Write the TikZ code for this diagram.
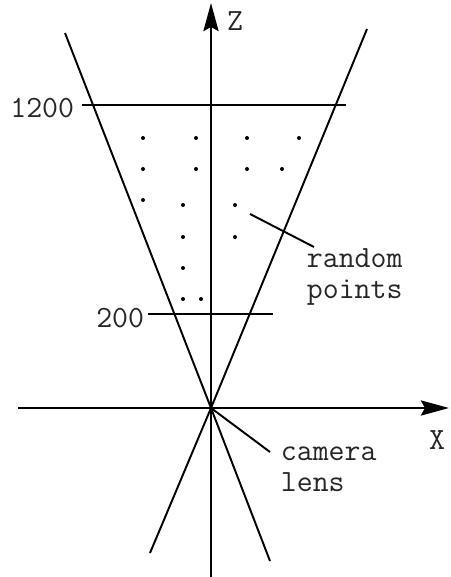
\documentclass[tikz,border=0pt]{standalone}
\usetikzlibrary{arrows.meta}
\begin{document}
\begin{tikzpicture}[x=0.02cm, y=-0.02cm, line width=1.1pt,
    lbl/.style={font=\ttfamily\fontsize{17.6}{17.6}\selectfont, inner sep=0pt, text=black!85},
    axis/.style={line width=1.7pt, -{Stealth[length=0.56cm, width=0.3cm, inset=0.08cm]}}]
    \useasboundingbox (0,0) rectangle (450,577);
    % Coordinates
    \coordinate (lens) at (211,408);
    \coordinate (zlow) at (211,577);
    \coordinate (ztop) at (211,3);
    \coordinate (xlow) at (18,408);
    \coordinate (xtop) at (449,408);
    \coordinate (rp) at (250,214);
    \coordinate (rpend) at (314,247);
    \coordinate (clend) at (270,452);

    % Nodes
    \node (zlbl) [lbl] at (235,21) {Z};
    \node (xlbl) [lbl] at (437,440) {X};
    \node (far) [lbl, anchor=east] at (75,108) {1200};
    \node (near) [lbl, anchor=east] at (145,318) {200};
    \node (random) [lbl, anchor=west, align=left] at (306,277) {random\\points};
    \node (camera) [lbl, anchor=west, align=left] at (280,469) {camera\\lens};

    % Axes
    \draw[axis] (zlow) -- (ztop);
    \draw[axis] (xlow) -- (xtop);

    % Viewing cone
    \draw (65,33) -- (lens) -- (270,561);
    \draw (367,29) -- (lens) -- (150,553);

    % Clipping planes
    \draw (far.east) ++(7,-3) -- (346,105);
    \draw (near.east) ++(3,-4) -- (273,314);

    % Points
    \foreach \p in {(143,138),(196,138),(247,138),(299,138),
                    (143,169),(196,169),(247,169),(282,169),
                    (143,200),(183,205),(235,205),
                    (183,237),(235,237),(183,268),(183,299),(201,299)}
        \fill \p circle (2);

    % Leaders
    \draw (rp) -- (rpend);
    \draw (lens) -- (clend);
\end{tikzpicture}
\end{document}
